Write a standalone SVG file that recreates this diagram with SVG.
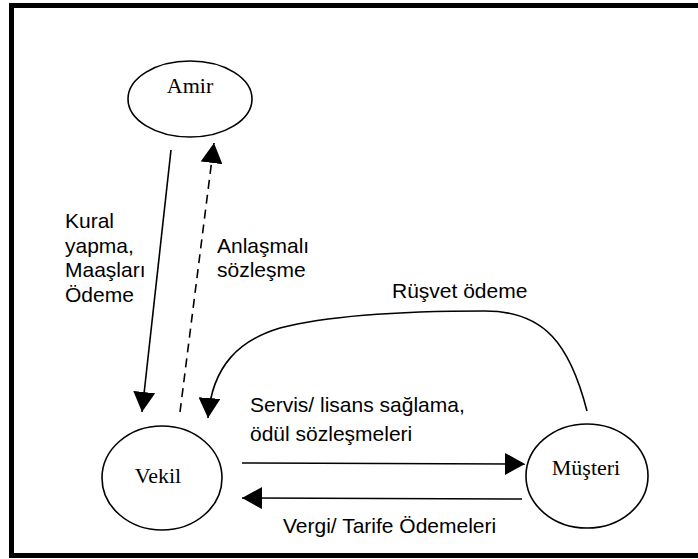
<svg xmlns="http://www.w3.org/2000/svg" width="698" height="559" viewBox="0 0 698 559">
<style>
.node{fill:#fff;stroke:#000;stroke-width:1.6}
.nl{font-family:"Liberation Serif","Times New Roman",serif;font-size:22px;fill:#000;text-anchor:middle}
.el{font-family:"Liberation Sans",Arial,sans-serif;font-size:21px;fill:#000}
.c{fill:none;stroke:#000;stroke-width:1.6}
</style>
<defs>
<marker id="ah" viewBox="0 0 20 22" markerWidth="20" markerHeight="22" refX="20" refY="11" orient="auto" markerUnits="userSpaceOnUse">
<path d="M0,0 L20,11 L0,22 z" fill="#000"/>
</marker>
</defs>
<rect x="0" y="0" width="698" height="559" fill="#fff"/>
<rect x="11.5" y="5.5" width="700" height="550" fill="none" stroke="#000" stroke-width="5"/>
<g id="amir">
<ellipse class="node" cx="190" cy="99" rx="62" ry="38"/>
<text class="nl" x="190" y="93">Amir</text>
</g>
<g id="vekil">
<ellipse class="node" cx="162" cy="478" rx="60" ry="52"/>
<text class="nl" x="158" y="483">Vekil</text>
</g>
<g id="musteri">
<ellipse class="node" cx="587" cy="476" rx="61" ry="52"/>
<text class="nl" x="586" y="475">Müşteri</text>
</g>
<g id="connectors">
<path class="c" d="M171,150 L142,412" marker-end="url(#ah)"/>
<path class="c" d="M180,412 L214,143" stroke-dasharray="9,6" marker-end="url(#ah)"/>
<path class="c" d="M587,411 C570,345 545,311 485,311 C400,311 330,315 280,328 C240,340 212,365 208,418" marker-end="url(#ah)"/>
<path class="c" d="M242,463 L525,464" marker-end="url(#ah)"/>
<path class="c" d="M522,499 L242,498" marker-end="url(#ah)"/>
</g>
<g id="labels">
<text class="el" x="65" y="228">Kural</text>
<text class="el" x="65" y="253">yapma,</text>
<text class="el" x="65" y="277">Maaşları</text>
<text class="el" x="65" y="302">Ödeme</text>
<text class="el" x="217" y="253">Anlaşmalı</text>
<text class="el" x="217" y="277">sözleşme</text>
<text class="el" x="392" y="298">Rüşvet ödeme</text>
<text class="el" x="250" y="412">Servis/ lisans sağlama,</text>
<text class="el" x="250" y="441">ödül sözleşmeleri</text>
<text class="el" x="283" y="533">Vergi/ Tarife Ödemeleri</text>
</g>
</svg>
